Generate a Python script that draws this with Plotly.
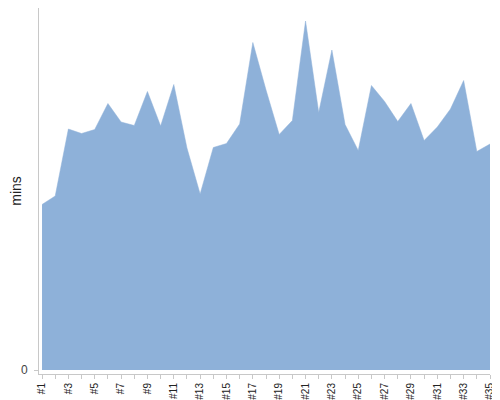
import plotly.graph_objects as go

categories = [f"#{i}" for i in range(1, 36)]
mins = [33.1, 34.8, 48.2, 47.3, 48.1, 53.3, 49.6, 48.9, 55.7, 48.8,
        57.1, 44.4, 35.2, 44.5, 45.3, 49.2, 65.5, 56.0, 47.1, 49.9,
        69.8, 51.5, 64.0, 49.1, 43.9, 56.9, 53.7, 49.7, 53.3, 45.9,
        48.6, 52.2, 57.9, 43.7, 45.2]
tick_labels = [c if i % 2 == 0 else "" for i, c in enumerate(categories)]
xs = list(range(len(categories)))

fill = "#8eb1d9"
fig = go.Figure(go.Scatter(
    x=xs, y=mins, mode="lines", fill="tozeroy",
    line=dict(color=fill, width=0.5), fillcolor=fill,
))
fig.update_layout(
    width=492, height=392,
    margin=dict(l=31, r=10, t=0, b=26),
    plot_bgcolor="white", paper_bgcolor="white",
    showlegend=False,
    font=dict(family="Liberation Sans, Arial, sans-serif", color="#333"),
)
fig.update_xaxes(
    range=[-0.23, 34], tickmode="array", tickvals=xs, ticktext=tick_labels,
    tickangle=-90, tickfont=dict(size=10, color="#222"),
    showgrid=False, zeroline=False, showline=True, linecolor="#c8c8c8",
    ticks="outside", ticklen=4, tickcolor="#c8c8c8", automargin=False,
)
fig.update_yaxes(
    range=[-0.8, 72.4], tickmode="array", tickvals=[0], ticktext=["0"],
    tickfont=dict(size=12, color="#444"), ticklabelstandoff=4,
    showgrid=False, zeroline=False, showline=True, linecolor="#c8c8c8",
    ticks="outside", ticklen=4, tickcolor="#c8c8c8", automargin=False,
    title=dict(text="mins", font=dict(size=14, color="#222"), standoff=0),
)
fig.write_html("out.html")
